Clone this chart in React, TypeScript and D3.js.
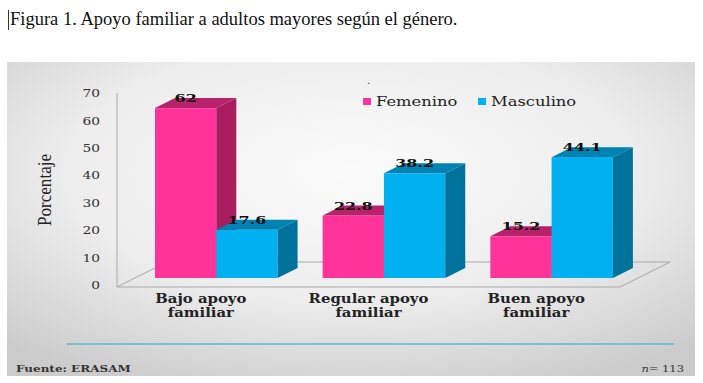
import React from "react";
import * as d3 from "d3";

const categories = ["Bajo apoyo familiar", "Regular apoyo familiar", "Buen apoyo familiar"];
const categoryLines = [["Bajo apoyo", "familiar"], ["Regular apoyo", "familiar"], ["Buen apoyo", "familiar"]];
const series = ["Femenino", "Masculino"];
const femenino = [62, 22.8, 15.2];
const masculino = [17.6, 38.2, 44.1];
const yTicks = [0, 10, 20, 30, 40, 50, 60, 70];

const colors = {
  Femenino: { front: "#ff3399", side: "#a81e5e", top: "#b8226a" },
  Masculino: { front: "#00b0f0", side: "#00739c", top: "#0083b3" },
};

const W = 703;
const H = 383;

const serifWide = "DejaVu Serif";
const times = "Liberation Serif";

function SText({ x, y, sx = 1.3, anchor = "start", size = 12, weight = "normal", fill = "#222", style = "normal", children }: any) {
  return (
    <text
      transform={`translate(${x},${y}) scale(${sx},1)`}
      textAnchor={anchor}
      fontFamily={serifWide}
      fontSize={size}
      fontWeight={weight}
      fontStyle={style}
      fill={fill}
    >
      {children}
    </text>
  );
}

export default function App() {
  const axisX = 117;
  const floorY = 287;
  const floorRight = 620;
  const floorDepth = { dx: 50, dy: -25 };
  const barDepth = { dx: 20, dy: -10 };
  const barOffset = { dx: 38, dy: -7 };

  const y = d3.scaleLinear().domain([0, 70]).range([285, 93.2]);
  const x0 = d3.scaleBand<string>().domain(categories).range([axisX, floorRight]);
  const groupW = x0.bandwidth() * 0.731;
  const x1 = d3.scaleBand<string>().domain(series).range([0, groupW]);

  const data = categories.map((c, i) => ({ c, vals: [femenino[i], masculino[i]] }));

  const bars: any[] = [];
  const labels: any[] = [];
  data.forEach((d) => {
    d.vals.forEach((v, j) => {
      const s = series[j] as "Femenino" | "Masculino";
      const xa = (x0(d.c) as number) + barOffset.dx + (x1(s) as number);
      const xb = xa + x1.bandwidth();
      const yt = y(v) + barOffset.dy;
      const yb = y(0) + barOffset.dy;
      const { dx, dy } = barDepth;
      const col = colors[s];
      bars.push(
        <g key={`${d.c}-${s}`}>
          <rect x={xa} y={yt} width={xb - xa} height={yb - yt} fill={col.front} />
          <polygon
            points={`${xb},${yb} ${xb + dx},${yb + dy} ${xb + dx},${yt + dy} ${xb},${yt}`}
            fill={col.side}
          />
          <polygon
            points={`${xa},${yt} ${xa + dx},${yt + dy} ${xb + dx},${yt + dy} ${xb},${yt}`}
            fill={col.top}
          />
        </g>
      );
      labels.push(
        <SText key={`l-${d.c}-${s}`} x={(xa + xb) / 2} y={yt + dy + 4} anchor="middle" size={11} weight="bold" sx={1.45} fill="#111">
          {String(v)}
        </SText>
      );
    });
  });

  return (
    <svg width={W} height={H} style={{ position: "absolute", left: 0, top: 0 }}>
      <defs>
        <radialGradient id="bg" cx="50%" cy="35%" r="75%">
          <stop offset="0" stopColor="#fbfbfb" />
          <stop offset="0.55" stopColor="#ededed" />
          <stop offset="1" stopColor="#cbcbcb" />
        </radialGradient>
      </defs>
      <rect x={0} y={0} width={W} height={H} fill="#ffffff" />
      <line x1={8.5} x2={8.5} y1={10} y2={30} stroke="#333" strokeWidth={1} />
      <text x={10} y={25} fontFamily={times} fontSize={18.5} fill="#111">
        Figura 1. Apoyo familiar a adultos mayores según el género.
      </text>

      <rect x={7} y={62} width={688} height={314} fill="url(#bg)" />

      {/* floor */}
      <g stroke="#a9a9a9" strokeWidth={1} fill="none">
        <line x1={axisX} y1={93} x2={axisX} y2={floorY} />
        <line x1={axisX} y1={floorY} x2={floorRight} y2={floorY} />
        <line x1={axisX} y1={floorY} x2={axisX + floorDepth.dx} y2={floorY + floorDepth.dy} />
        <line x1={axisX + floorDepth.dx} y1={floorY + floorDepth.dy} x2={floorRight + floorDepth.dx} y2={floorY + floorDepth.dy} />
        <line x1={floorRight} y1={floorY} x2={floorRight + floorDepth.dx} y2={floorY + floorDepth.dy} />
      </g>

      {yTicks.map((t) => (
        <SText key={t} x={100} y={y(t) + 4} anchor="end" size={11} sx={1.25} fill="#333">
          {String(t)}
        </SText>
      ))}

      <text
        transform={`translate(51,190) rotate(-90) scale(0.9,1)`}
        textAnchor="middle"
        fontFamily={times}
        fontSize={19}
        fill="#222"
      >
        Porcentaje
      </text>

      {bars}
      {labels}

      {categories.map((c, i) => {
        const cx = (x0(c) as number) + x0.bandwidth() / 2;
        return (
          <g key={c}>
            {categoryLines[i].map((ln, k) => (
              <SText key={k} x={cx} y={303 + k * 14} anchor="middle" size={12} weight="bold" sx={1.24} fill="#222">
                {ln}
              </SText>
            ))}
          </g>
        );
      })}

      {/* legend */}
      <text x={367} y={84} fontSize={10} fill="#333" fontFamily={serifWide}>.</text>
      {series.map((s, i) => {
        const lx = [363, 478][i];
        return (
          <g key={s}>
            <rect x={lx} y={98} width={8} height={7} fill={colors[s as "Femenino"].front} />
            <SText x={lx + 13} y={106} size={12} sx={1.36} fill="#222">
              {s}
            </SText>
          </g>
        );
      })}

      <line x1={67} x2={674} y1={344} y2={344} stroke="#7fbdd4" strokeWidth={2} />
      <SText x={16} y={372} size={10} weight="bold" sx={1.2} fill="#333">
        Fuente: ERASAM
      </SText>
      <text transform="translate(684,372) scale(1.15,1)" textAnchor="end" fontFamily={serifWide} fontSize={10} fill="#333">
        <tspan fontStyle="italic">n</tspan>= 113
      </text>
    </svg>
  );
}
